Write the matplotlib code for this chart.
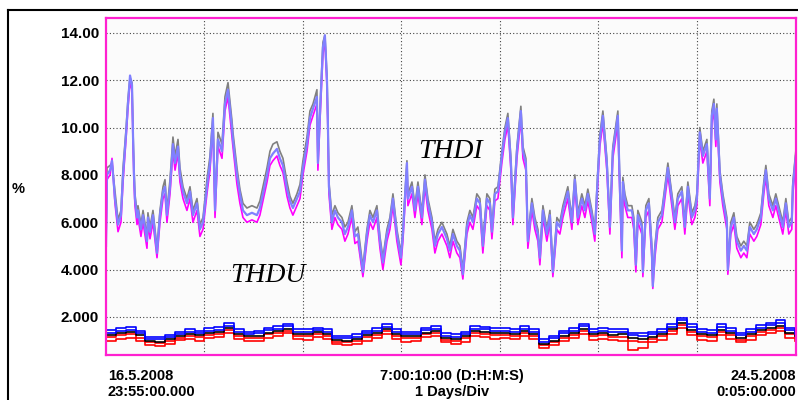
import numpy as np
import matplotlib
matplotlib.use('Agg')
from matplotlib import pyplot as plt
from matplotlib.lines import Line2D

# THDI (days since 16.5.2008 23:55)
thdi_days = [
    0.000, 0.010, 0.041, 0.061, 0.091, 0.122, 0.152, 0.173, 0.203, 0.223,
    0.244, 0.264, 0.274, 0.284, 0.294, 0.315, 0.325, 0.355, 0.376, 0.416,
    0.426, 0.447, 0.477, 0.518, 0.548, 0.579, 0.599, 0.619, 0.650, 0.680,
    0.701, 0.731, 0.751, 0.782, 0.822, 0.853, 0.883, 0.924, 0.954, 0.985,
    1.025, 1.056, 1.086, 1.107, 1.137, 1.178, 1.208, 1.239, 1.279, 1.289,
    1.330, 1.360, 1.391, 1.431, 1.482, 1.533, 1.563, 1.594, 1.635, 1.665,
    1.695, 1.736, 1.766, 1.797, 1.838, 1.868, 1.898, 1.939, 1.970, 2.000,
    2.041, 2.071, 2.102, 2.142, 2.152, 2.173, 2.203, 2.223, 2.244, 2.254,
    2.264, 2.294, 2.325, 2.355, 2.396, 2.426, 2.457, 2.497, 2.528, 2.558,
    2.609, 2.650, 2.680, 2.711, 2.751, 2.782, 2.812, 2.853, 2.883, 2.914,
    2.954, 2.995, 3.015, 3.056, 3.066, 3.107, 3.137, 3.168, 3.208, 3.239,
    3.269, 3.310, 3.340, 3.371, 3.411, 3.462, 3.492, 3.523, 3.563, 3.594,
    3.624, 3.665, 3.695, 3.726, 3.766, 3.797, 3.827, 3.868, 3.898, 3.919,
    3.949, 3.980, 4.020, 4.051, 4.081, 4.112, 4.132, 4.173, 4.213, 4.234,
    4.264, 4.284, 4.325, 4.355, 4.386, 4.406, 4.437, 4.477, 4.508, 4.538,
    4.579, 4.609, 4.640, 4.690, 4.731, 4.761, 4.792, 4.832, 4.863, 4.893,
    4.934, 4.964, 4.995, 5.015, 5.046, 5.086, 5.117, 5.147, 5.188, 5.198,
    5.218, 5.239, 5.249, 5.269, 5.299, 5.340, 5.360, 5.381, 5.401, 5.442,
    5.452, 5.482, 5.513, 5.543, 5.553, 5.574, 5.604, 5.645, 5.675, 5.706,
    5.746, 5.777, 5.807, 5.848, 5.878, 5.909, 5.949, 5.980, 6.000, 6.030,
    6.061, 6.102, 6.132, 6.152, 6.173, 6.193, 6.203, 6.234, 6.264, 6.305,
    6.315, 6.345, 6.376, 6.406, 6.447, 6.477, 6.508, 6.538, 6.579, 6.609,
    6.650, 6.680, 6.701, 6.731, 6.772, 6.802, 6.832, 6.873, 6.904, 6.934,
    6.964, 6.975, 7.005]

thdi_lav = [
    5.0, 8.0, 8.2, 8.6, 7.0, 5.9, 6.3, 8.0, 9.7, 11.0,
    12.2, 11.8, 9.7, 8.0, 7.0, 6.2, 6.5, 5.7, 6.3, 5.2,
    6.2, 5.6, 6.3, 4.7, 6.3, 7.3, 7.5, 6.3, 7.5, 9.3,
    8.5, 9.2, 8.0, 7.3, 6.8, 7.3, 6.3, 6.8, 5.7, 6.0,
    7.5, 8.5, 10.4, 6.5, 9.5, 9.0, 11.0, 11.6, 10.0, 9.5,
    8.0, 7.2, 6.5, 6.3, 6.4, 6.3, 6.6, 7.2, 8.0, 8.7,
    8.9, 9.1, 8.7, 8.4, 7.4, 6.9, 6.6, 7.0, 7.3, 8.3,
    9.3, 10.4, 10.8, 11.3, 8.5, 10.6, 13.4, 13.9, 12.0, 10.0,
    7.5, 6.0, 6.5, 6.2, 6.0, 5.5, 5.8, 6.5, 5.4, 5.5,
    3.9, 5.5, 6.3, 6.0, 6.5, 5.2, 4.3, 5.5, 6.0, 7.0,
    5.5, 4.5, 5.5, 8.5, 7.0, 7.5, 6.5, 7.5, 6.2, 7.8,
    6.8, 6.0, 5.0, 5.5, 5.8, 5.3, 4.8, 5.5, 5.0, 4.8,
    3.8, 5.8, 6.3, 6.0, 7.0, 6.8, 5.0, 7.0, 6.8, 5.6,
    7.2, 7.3, 8.8, 9.8, 10.4, 8.5, 6.2, 9.0, 10.7, 9.0,
    8.5, 5.2, 6.8, 6.0, 5.5, 4.5, 6.5, 5.5, 6.3, 3.9,
    6.0, 5.8, 6.5, 7.3, 6.0, 7.8, 6.2, 7.0, 6.5, 7.2,
    6.3, 5.5, 8.0, 9.5, 10.5, 8.5, 5.8, 9.0, 10.2, 10.5,
    7.5, 4.8, 7.7, 7.0, 6.5, 6.5, 6.0, 4.2, 6.3, 5.8,
    3.9, 6.5, 6.8, 4.8, 3.3, 4.8, 6.0, 6.3, 7.3, 8.3,
    7.0, 6.0, 7.0, 7.3, 5.8, 7.5, 6.2, 6.5, 7.0, 9.8,
    8.8, 9.3, 7.0, 10.5, 11.0, 9.5, 10.8, 8.0, 7.0, 6.0,
    4.0, 5.8, 6.2, 5.2, 4.8, 5.0, 4.8, 5.8, 5.5, 5.7,
    6.2, 7.5, 8.2, 7.0, 6.5, 7.0, 6.5, 5.8, 6.8, 5.8,
    6.0, 7.5, 8.8]

thdi_gray = [
    5.2, 8.3, 8.4, 8.5, 7.3, 6.1, 6.5, 8.3, 9.9, 11.2,
    12.1, 11.9, 9.9, 8.3, 7.2, 6.4, 6.7, 5.9, 6.5, 5.4,
    6.4, 5.8, 6.5, 4.9, 6.5, 7.5, 7.8, 6.5, 7.8, 9.6,
    8.8, 9.5, 8.3, 7.5, 7.0, 7.5, 6.5, 7.0, 5.9, 6.2,
    7.8, 8.8, 10.6, 6.8, 9.8, 9.3, 11.3, 11.9, 10.3, 9.8,
    8.3, 7.4, 6.8, 6.6, 6.7, 6.6, 6.9, 7.5, 8.3, 9.0,
    9.3, 9.4, 9.0, 8.7, 7.7, 7.1, 6.8, 7.2, 7.6, 8.6,
    9.6, 10.7, 11.0, 11.6, 8.7, 10.8, 13.6, 13.9, 12.2, 10.2,
    7.7, 6.3, 6.7, 6.4, 6.2, 5.8, 6.0, 6.7, 5.6, 5.8,
    4.1, 5.7, 6.5, 6.2, 6.7, 5.4, 4.5, 5.7, 6.2, 7.2,
    5.7, 4.7, 5.7, 8.6, 7.2, 7.7, 6.7, 7.7, 6.4, 8.0,
    7.0, 6.2, 5.2, 5.7, 6.0, 5.5, 5.0, 5.7, 5.2, 5.0,
    4.0, 6.0, 6.5, 6.2, 7.2, 7.0, 5.2, 7.2, 7.0, 5.8,
    7.4, 7.5, 9.0, 10.0, 10.6, 8.7, 6.4, 9.2, 10.9, 9.2,
    8.7, 5.4, 7.0, 6.2, 5.7, 4.7, 6.7, 5.7, 6.5, 4.1,
    6.2, 6.0, 6.7, 7.5, 6.2, 8.0, 6.4, 7.2, 6.7, 7.4,
    6.5, 5.7, 8.2, 9.7, 10.7, 8.7, 6.0, 9.2, 10.4, 10.7,
    7.7, 5.0, 7.9, 7.2, 6.7, 6.7, 6.2, 4.4, 6.5, 6.0,
    4.1, 6.7, 7.0, 5.0, 3.5, 5.0, 6.2, 6.5, 7.5, 8.5,
    7.2, 6.2, 7.2, 7.5, 6.0, 7.7, 6.4, 6.7, 7.2, 10.0,
    9.0, 9.5, 7.2, 10.7, 11.2, 9.7, 11.0, 8.2, 7.2, 6.2,
    4.2, 6.0, 6.4, 5.4, 5.0, 5.2, 5.0, 6.0, 5.7, 5.9,
    6.4, 7.7, 8.4, 7.2, 6.7, 7.2, 6.7, 6.0, 7.0, 6.0,
    6.2, 7.7, 9.0]

thdi_mag = [
    4.8, 7.8, 8.0, 8.7, 6.8, 5.6, 6.0, 7.7, 9.5, 10.8,
    11.9, 11.6, 9.4, 7.7, 6.7, 5.9, 6.2, 5.4, 6.0, 4.9,
    5.9, 5.3, 6.0, 4.5, 6.0, 7.0, 7.2, 6.0, 7.2, 9.0,
    8.2, 8.9, 7.7, 7.0, 6.5, 7.0, 6.0, 6.5, 5.4, 5.7,
    7.2, 8.2, 10.1, 6.2, 9.2, 8.7, 10.7, 11.3, 9.6, 9.2,
    7.6, 6.8, 6.2, 6.0, 6.1, 6.0, 6.3, 6.9, 7.7, 8.4,
    8.6, 8.8, 8.4, 8.1, 7.1, 6.6, 6.3, 6.7, 7.0, 8.0,
    9.0, 10.1, 10.5, 11.0, 8.2, 10.3, 13.1, 13.7, 11.7, 9.7,
    7.2, 5.7, 6.2, 5.9, 5.7, 5.2, 5.5, 6.2, 5.1, 5.2,
    3.7, 5.2, 6.0, 5.7, 6.2, 4.9, 4.0, 5.2, 5.7, 6.7,
    5.2, 4.2, 5.2, 8.2, 6.7, 7.2, 6.2, 7.2, 5.9, 7.5,
    6.5, 5.7, 4.7, 5.2, 5.5, 5.0, 4.5, 5.2, 4.7, 4.5,
    3.6, 5.5, 6.0, 5.7, 6.7, 6.5, 4.7, 6.7, 6.5, 5.3,
    6.9, 7.0, 8.5, 9.5, 10.1, 8.2, 5.9, 8.7, 10.4, 8.7,
    8.2, 4.9, 6.5, 5.7, 5.2, 4.2, 6.2, 5.2, 6.0, 3.7,
    5.7, 5.5, 6.2, 7.0, 5.7, 7.5, 5.9, 6.7, 6.2, 6.9,
    6.0, 5.2, 7.7, 9.2, 10.2, 8.2, 5.5, 8.7, 9.9, 10.2,
    7.2, 4.5, 7.4, 6.7, 6.2, 6.2, 5.7, 3.9, 6.0, 5.5,
    3.7, 6.2, 6.5, 4.5, 3.2, 4.5, 5.7, 6.0, 7.0, 8.0,
    6.7, 5.7, 6.7, 7.0, 5.5, 7.2, 5.9, 6.2, 6.7, 9.5,
    8.5, 9.0, 6.7, 10.2, 10.7, 9.2, 10.5, 7.7, 6.7, 5.7,
    3.8, 5.5, 5.9, 4.9, 4.5, 4.7, 4.5, 5.5, 5.2, 5.4,
    5.9, 7.2, 7.9, 6.7, 6.2, 6.7, 6.2, 5.5, 6.5, 5.5,
    5.7, 7.2, 8.5]

# THDU, one reading every 0.1 day
thdu_days = np.round(np.arange(0, 7.05, 0.1), 2)

thdu_blue_a = [
    1.44, 1.52, 1.58, 1.41, 1.15, 1.15, 1.24, 1.38, 1.48, 1.41,
    1.52, 1.58, 1.76, 1.48, 1.38, 1.41, 1.55, 1.62, 1.72, 1.48,
    1.48, 1.55, 1.48, 1.20, 1.20, 1.27, 1.41, 1.52, 1.69, 1.48,
    1.38, 1.38, 1.55, 1.62, 1.30, 1.27, 1.38, 1.62, 1.58, 1.52,
    1.52, 1.48, 1.62, 1.48, 1.06, 1.20, 1.41, 1.52, 1.72, 1.48,
    1.52, 1.48, 1.48, 1.34, 1.30, 1.38, 1.48, 1.69, 1.97, 1.69,
    1.48, 1.44, 1.69, 1.52, 1.34, 1.48, 1.66, 1.76, 1.86, 1.55, 1.38]
thdu_blue_b = [
    1.32, 1.40, 1.45, 1.30, 1.06, 1.05, 1.15, 1.28, 1.36, 1.30,
    1.42, 1.46, 1.62, 1.38, 1.28, 1.30, 1.44, 1.50, 1.60, 1.38,
    1.36, 1.45, 1.36, 1.10, 1.10, 1.17, 1.30, 1.42, 1.57, 1.37,
    1.27, 1.28, 1.44, 1.50, 1.20, 1.16, 1.27, 1.50, 1.47, 1.40,
    1.41, 1.37, 1.50, 1.36, 0.96, 1.10, 1.30, 1.41, 1.60, 1.36,
    1.40, 1.36, 1.36, 1.22, 1.19, 1.26, 1.37, 1.58, 1.85, 1.57,
    1.36, 1.33, 1.57, 1.41, 1.22, 1.36, 1.54, 1.64, 1.74, 1.44, 1.27]
thdu_black = [
    1.24, 1.30, 1.35, 1.22, 0.98, 0.96, 1.05, 1.20, 1.26, 1.22,
    1.32, 1.36, 1.52, 1.28, 1.18, 1.20, 1.34, 1.40, 1.50, 1.28,
    1.26, 1.35, 1.28, 1.02, 1.00, 1.07, 1.22, 1.32, 1.47, 1.28,
    1.18, 1.20, 1.34, 1.40, 1.10, 1.06, 1.18, 1.40, 1.37, 1.30,
    1.31, 1.27, 1.40, 1.28, 0.86, 0.98, 1.20, 1.31, 1.50, 1.26,
    1.30, 1.25, 1.26, 1.10, 1.05, 1.14, 1.26, 1.48, 1.74, 1.46,
    1.26, 1.22, 1.46, 1.30, 1.12, 1.26, 1.44, 1.54, 1.62, 1.34, 1.18]
thdu_red_a = [
    1.16, 1.22, 1.27, 1.12, 0.92, 0.90, 0.98, 1.12, 1.18, 1.14,
    1.24, 1.28, 1.44, 1.20, 1.10, 1.12, 1.26, 1.32, 1.42, 1.20,
    1.18, 1.27, 1.20, 0.96, 0.94, 1.00, 1.14, 1.24, 1.39, 1.20,
    1.10, 1.12, 1.26, 1.32, 1.03, 0.98, 1.10, 1.32, 1.29, 1.22,
    1.23, 1.19, 1.32, 1.20, 0.80, 0.92, 1.12, 1.23, 1.42, 1.18,
    1.22, 1.17, 1.16, 0.98, 0.96, 1.05, 1.18, 1.40, 1.66, 1.38,
    1.18, 1.14, 1.38, 1.22, 1.04, 1.18, 1.36, 1.46, 1.54, 1.26, 1.10]
thdu_red_b = [
    1.00, 1.06, 1.12, 1.00, 0.80, 0.78, 0.86, 1.02, 1.06, 1.00,
    1.12, 1.16, 1.30, 1.05, 0.98, 1.00, 1.12, 1.18, 1.30, 1.06,
    1.04, 1.14, 1.06, 0.84, 0.82, 0.86, 1.00, 1.12, 1.26, 1.06,
    0.96, 1.00, 1.14, 1.18, 0.92, 0.86, 0.96, 1.18, 1.15, 1.08,
    1.10, 1.06, 1.18, 1.05, 0.70, 0.82, 1.00, 1.10, 1.28, 1.04,
    1.08, 1.02, 0.98, 0.62, 0.70, 0.92, 1.04, 1.26, 1.52, 1.24,
    1.04, 1.00, 1.24, 1.08, 0.92, 1.04, 1.22, 1.32, 1.40, 1.12, 0.98]

ytick_vals = [2, 4, 6, 8, 10, 12, 14]
ytick_labels = ['2.000', '4.000', '6.000', '8.000', '10.00', '12.00', '14.00']

W, H = 798, 400
fig = plt.figure(figsize=(W / 100, H / 100), dpi=100)
ax = fig.add_axes([106 / W, 1 - 355 / H, 690 / W, 337 / H])
ax.set_facecolor('#fbfbfb')

ax.plot(thdi_days, thdi_gray, color='#808080', lw=1.2)
ax.plot(thdi_days, thdi_mag, color='#ff00ff', lw=1.2)
ax.plot(thdi_days, thdi_lav, color='#8080ff', lw=1.6)

for vals, col in [(thdu_red_b, '#ff0000'), (thdu_red_a, '#ff0000'),
                  (thdu_black, '#000000'), (thdu_blue_b, '#0000ff'),
                  (thdu_blue_a, '#0000ff')]:
    ax.plot(thdu_days, vals, color=col, lw=1.2, drawstyle='steps-post')

ax.set_xlim(0, 7.007)
ax.set_ylim(0.39, 14.63)
ax.set_yticks(ytick_vals)
ax.set_yticklabels(ytick_labels, fontfamily='Liberation Sans', fontweight='bold', fontsize=11)
ax.set_xticks([1, 2, 3, 4, 5, 6])
ax.set_xticklabels([])
ax.tick_params(length=0, pad=5)
ax.grid(True, color='#444444', linestyle=(0, (1, 2)), linewidth=0.8)
for s in ax.spines.values():
    s.set_color('#ff20d0')
    s.set_linewidth(1.6)

fig.text(418 / W, 1 - 158 / H, 'THDI', fontfamily='Liberation Serif', style='italic', fontsize=20)
fig.text(230 / W, 1 - 282 / H, 'THDU', fontfamily='Liberation Serif', style='italic', fontsize=20)

bold = dict(fontfamily='Liberation Sans', fontweight='bold', fontsize=10.5)
fig.text(12 / W, 1 - 193 / H, '%', **bold)
fig.text(108 / W, 1 - 380 / H, '16.5.2008', ha='left', **bold)
fig.text(108 / W, 1 - 396 / H, '23:55:00.000', ha='left', **bold)
fig.text(452 / W, 1 - 380 / H, '7:00:10:00 (D:H:M:S)', ha='center', **bold)
fig.text(452 / W, 1 - 396 / H, '1 Days/Div', ha='center', **bold)
fig.text(796 / W, 1 - 380 / H, '24.5.2008', ha='right', **bold)
fig.text(796 / W, 1 - 396 / H, '0:05:00.000', ha='right', **bold)

# outer frame
fig.add_artist(Line2D([7.5 / W, 7.5 / W], [0, 1 - 10 / H], color='black', lw=1.5))
fig.add_artist(Line2D([7.5 / W, 1], [1 - 10 / H, 1 - 10 / H], color='black', lw=1.5))

fig.savefig('out.png', dpi=100)
